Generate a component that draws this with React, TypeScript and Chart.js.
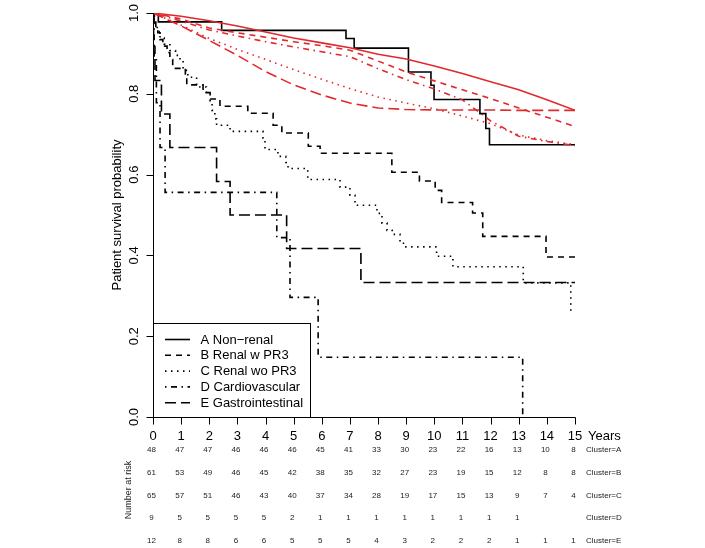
import React, { useEffect, useRef } from "react";
import { Chart, registerables } from "chart.js";

Chart.register(...registerables);

// ---------- data ----------
const xTickYears = [0, 1, 2, 3, 4, 5, 6, 7, 8, 9, 10, 11, 12, 13, 14, 15];
const yTickValues = [0, 0.2, 0.4, 0.6, 0.8, 1.0];
const yTickLabels = ["0.0", "0.2", "0.4", "0.6", "0.8", "1.0"];
const legendLabels = [
  "A Non\u2212renal",
  "B Renal w PR3",
  "C Renal wo PR3",
  "D Cardiovascular",
  "E Gastrointestinal",
];
const riskRowLabels = ["Cluster=A", "Cluster=B", "Cluster=C", "Cluster=D", "Cluster=E"];

// Kaplan-Meier step curves (time in years, survival)
const kmTimesA = [0, 0.19, 2.44, 6.86, 7.15, 9.08, 9.88, 9.99, 11.62, 11.83, 11.96, 15];
const kmSurvA = [1, 0.978, 0.957, 0.937, 0.913, 0.854, 0.821, 0.786, 0.751, 0.714, 0.674, 0.674];

const kmTimesB = [0, 0.05, 0.1, 0.17, 0.25, 0.35, 0.5, 0.6, 0.7, 1.15, 1.2, 1.78, 2.03, 2.38, 3.37, 4.27, 4.58, 5.52, 5.94, 8.49, 9.47, 10.03, 10.26, 11.36, 11.72, 13.97, 15];
const kmSurvB = [1, 0.984, 0.967, 0.951, 0.934, 0.918, 0.902, 0.885, 0.863, 0.842, 0.822, 0.803, 0.787, 0.769, 0.752, 0.722, 0.703, 0.670, 0.653, 0.606, 0.584, 0.561, 0.531, 0.505, 0.447, 0.396, 0.396];

const kmTimesC = [0, 0.03, 0.08, 0.15, 0.25, 0.4, 0.6, 0.8, 0.96, 1.07, 1.24, 1.55, 1.9, 2.03, 2.1, 2.2, 2.26, 2.74, 3.91, 3.98, 4.44, 4.72, 4.8, 5.5, 6.65, 7.0, 7.18, 7.96, 8.14, 8.32, 8.5, 8.78, 8.96, 10.08, 10.66, 13.16, 14.85];
const kmSurvC = [1, 0.985, 0.969, 0.954, 0.938, 0.923, 0.907, 0.895, 0.883, 0.858, 0.841, 0.817, 0.8, 0.775, 0.759, 0.738, 0.722, 0.707, 0.691, 0.662, 0.645, 0.63, 0.615, 0.588, 0.569, 0.549, 0.524, 0.504, 0.48, 0.462, 0.452, 0.43, 0.421, 0.398, 0.372, 0.332, 0.263];

const kmTimesD = [0, 0.04, 0.12, 0.25, 0.43, 4.4, 4.87, 5.87, 13.14];
const kmSurvD = [1, 0.889, 0.778, 0.667, 0.556, 0.444, 0.296, 0.148, 0];

const kmTimesE = [0, 0.02, 0.07, 0.3, 0.6, 2.26, 2.74, 4.75, 7.39, 15];
const kmSurvE = [1, 0.917, 0.833, 0.75, 0.667, 0.583, 0.5, 0.417, 0.333, 0.333];

// Model-predicted (red) curves, yearly
const fitYears = [0, 1, 2, 3, 4, 5, 6, 7, 8, 9, 10, 11, 12, 13, 14, 15];
const fitA = [1, 0.992, 0.981, 0.968, 0.953, 0.938, 0.926, 0.914, 0.898, 0.886, 0.869, 0.85, 0.83, 0.81, 0.785, 0.759];
const fitB = [1, 0.985, 0.963, 0.951, 0.94, 0.929, 0.919, 0.908, 0.881, 0.854, 0.832, 0.81, 0.788, 0.765, 0.742, 0.719];
const fitC = [1, 0.97, 0.937, 0.91, 0.885, 0.86, 0.836, 0.813, 0.792, 0.777, 0.763, 0.745, 0.726, 0.698, 0.684, 0.674];
const fitD = [1, 0.98, 0.958, 0.943, 0.929, 0.916, 0.904, 0.892, 0.862, 0.835, 0.812, 0.785, 0.733, 0.695, 0.682, 0.672];
const fitE = [1, 0.968, 0.932, 0.895, 0.855, 0.822, 0.797, 0.777, 0.765, 0.761, 0.76, 0.76, 0.76, 0.759, 0.759, 0.759];

// Number at risk
const riskA = [48, 47, 47, 46, 46, 46, 45, 41, 33, 30, 23, 22, 16, 13, 10, 8];
const riskB = [61, 53, 49, 46, 45, 42, 38, 35, 32, 27, 23, 19, 15, 12, 8, 8];
const riskC = [65, 57, 51, 46, 43, 40, 37, 34, 28, 19, 17, 15, 13, 9, 7, 4];
const riskD = [9, 5, 5, 5, 5, 2, 1, 1, 1, 1, 1, 1, 1, 1, null, null];
const riskE = [12, 8, 8, 6, 6, 5, 5, 5, 4, 3, 2, 2, 2, 1, 1, 1];

// ---------- styles ----------
const RED = "#e2282c";
const BLACK = "#000000";
const DASHES: number[][] = [[], [6, 5], [1.5, 4.5], [1.5, 4.5, 6, 4.5], [11, 5]];
const FONT = '"Liberation Sans", Arial, Helvetica, sans-serif';

const zip = (xs: number[], ys: number[]) => xs.map((x, i) => ({ x, y: ys[i] }));

export default function App() {
  const ref = useRef<HTMLCanvasElement | null>(null);

  useEffect(() => {
    const canvas = ref.current;
    if (!canvas) return;

    const kmSeries = [
      zip(kmTimesA, kmSurvA),
      zip(kmTimesB, kmSurvB),
      zip(kmTimesC, kmSurvC),
      zip(kmTimesD, kmSurvD),
      zip(kmTimesE, kmSurvE),
    ];
    const fitSeries = [fitA, fitB, fitC, fitD, fitE].map((f) => zip(fitYears, f));
    const risks = [riskA, riskB, riskC, riskD, riskE];

    const datasets: any[] = [];
    fitSeries.forEach((d, i) => {
      datasets.push({
        label: "fit " + legendLabels[i],
        data: d,
        borderColor: RED,
        borderWidth: 1.6,
        borderDash: DASHES[i],
        borderCapStyle: "butt",
        pointRadius: 0,
        tension: 0,
        fill: false,
        order: 0,
      });
    });
    kmSeries.forEach((d, i) => {
      datasets.push({
        label: legendLabels[i],
        data: d,
        borderColor: BLACK,
        borderWidth: 1.6,
        borderDash: DASHES[i],
        borderCapStyle: "butt",
        pointRadius: 0,
        stepped: "before",
        fill: false,
        order: 1,
      });
    });

    const decor = {
      id: "rdecor",
      afterDatasetsDraw(chart: any) {
        const ctx = chart.ctx as CanvasRenderingContext2D;
        const xs = chart.scales.x;
        const ys = chart.scales.y;
        const x0 = Math.round(xs.getPixelForValue(0)) + 0.5;
        const x15 = xs.getPixelForValue(15);
        const yBot = Math.round(ys.getPixelForValue(0)) + 0.5;
        const yTop = ys.getPixelForValue(1);
        ctx.save();
        ctx.setLineDash([]);
        ctx.strokeStyle = "#000";
        ctx.fillStyle = "#000";
        ctx.lineWidth = 1;

        // legend box
        const lgTop = Math.round(ys.getPixelForValue(0.232)) + 0.5;
        const lgRight = 310.5;
        ctx.fillStyle = "#fff";
        ctx.fillRect(x0, lgTop, lgRight - x0, yBot - lgTop);
        ctx.strokeRect(x0, lgTop, lgRight - x0, yBot - lgTop);
        ctx.fillStyle = "#000";
        ctx.font = "13px " + FONT;
        ctx.textAlign = "left";
        ctx.textBaseline = "middle";
        legendLabels.forEach((lab, i) => {
          const y = lgTop + 16 + i * 15.8;
          ctx.save();
          ctx.lineWidth = 1.6;
          ctx.lineCap = "butt";
          ctx.setLineDash(DASHES[i]);
          ctx.beginPath();
          ctx.moveTo(165, y);
          ctx.lineTo(190, y);
          ctx.stroke();
          ctx.restore();
          ctx.fillText(lab, 200.5, y + 0.5);
        });

        // y axis
        ctx.beginPath();
        ctx.moveTo(x0, yBot);
        ctx.lineTo(x0, Math.round(yTop) + 0.5);
        ctx.stroke();
        ctx.font = "13px " + FONT;
        yTickValues.forEach((v, i) => {
          const y = Math.round(ys.getPixelForValue(v)) + 0.5;
          ctx.beginPath();
          ctx.moveTo(x0, y);
          ctx.lineTo(x0 - 7, y);
          ctx.stroke();
          ctx.save();
          ctx.translate(134, ys.getPixelForValue(v));
          ctx.rotate(-Math.PI / 2);
          ctx.textAlign = "center";
          ctx.textBaseline = "middle";
          ctx.fillText(yTickLabels[i], 0, 0);
          ctx.restore();
        });
        ctx.save();
        ctx.translate(117, (yTop + ys.getPixelForValue(0)) / 2);
        ctx.rotate(-Math.PI / 2);
        ctx.textAlign = "center";
        ctx.textBaseline = "middle";
        ctx.font = "13px " + FONT;
        ctx.fillText("Patient survival probability", 0, 0);
        ctx.restore();

        // x axis
        ctx.beginPath();
        ctx.moveTo(x0, yBot);
        ctx.lineTo(Math.round(x15) + 0.5, yBot);
        ctx.stroke();
        ctx.textAlign = "center";
        ctx.textBaseline = "middle";
        xTickYears.forEach((t) => {
          const x = Math.round(xs.getPixelForValue(t)) + 0.5;
          ctx.beginPath();
          ctx.moveTo(x, yBot);
          ctx.lineTo(x, yBot + 7);
          ctx.stroke();
          ctx.fillText(String(t), xs.getPixelForValue(t), 436);
        });
        ctx.textAlign = "left";
        ctx.fillText("Years", 588, 436);

        // risk table
        ctx.font = "8px " + FONT;
        ctx.fillStyle = "#222";
        const rowY = [450, 473, 495.5, 518, 540.5];
        risks.forEach((row, r) => {
          ctx.textAlign = "center";
          row.forEach((n, i) => {
            if (n === null || n === undefined) return;
            ctx.fillText(String(n), xs.getPixelForValue(xTickYears[i]) - 1.5, rowY[r]);
          });
          ctx.textAlign = "left";
          ctx.fillText(riskRowLabels[r], 586, rowY[r]);
        });
        ctx.save();
        ctx.translate(128.5, 490);
        ctx.rotate(-Math.PI / 2);
        ctx.textAlign = "center";
        ctx.font = "9px " + FONT;
        ctx.fillText("Number at risk", 0, 0);
        ctx.restore();

        ctx.restore();
      },
    };

    const chart = new Chart(canvas, {
      type: "line",
      data: { datasets },
      options: {
        animation: false,
        responsive: false,
        maintainAspectRatio: false,
        devicePixelRatio: 1,
        layout: { padding: { left: 153, right: 130, top: 13, bottom: 131 } },
        plugins: { legend: { display: false }, tooltip: { enabled: false } },
        scales: {
          x: { type: "linear", min: 0, max: 15, display: false },
          y: { type: "linear", min: 0, max: 1, display: false },
        },
        elements: { line: { borderJoinStyle: "miter" } },
      } as any,
      plugins: [decor],
    });

    return () => chart.destroy();
  }, []);

  return (
    <div style={{ position: "fixed", left: 0, top: 0, width: 705, height: 548, background: "#fff" }}>
      <canvas ref={ref} width={705} height={548} style={{ width: 705, height: 548, display: "block" }} />
    </div>
  );
}
